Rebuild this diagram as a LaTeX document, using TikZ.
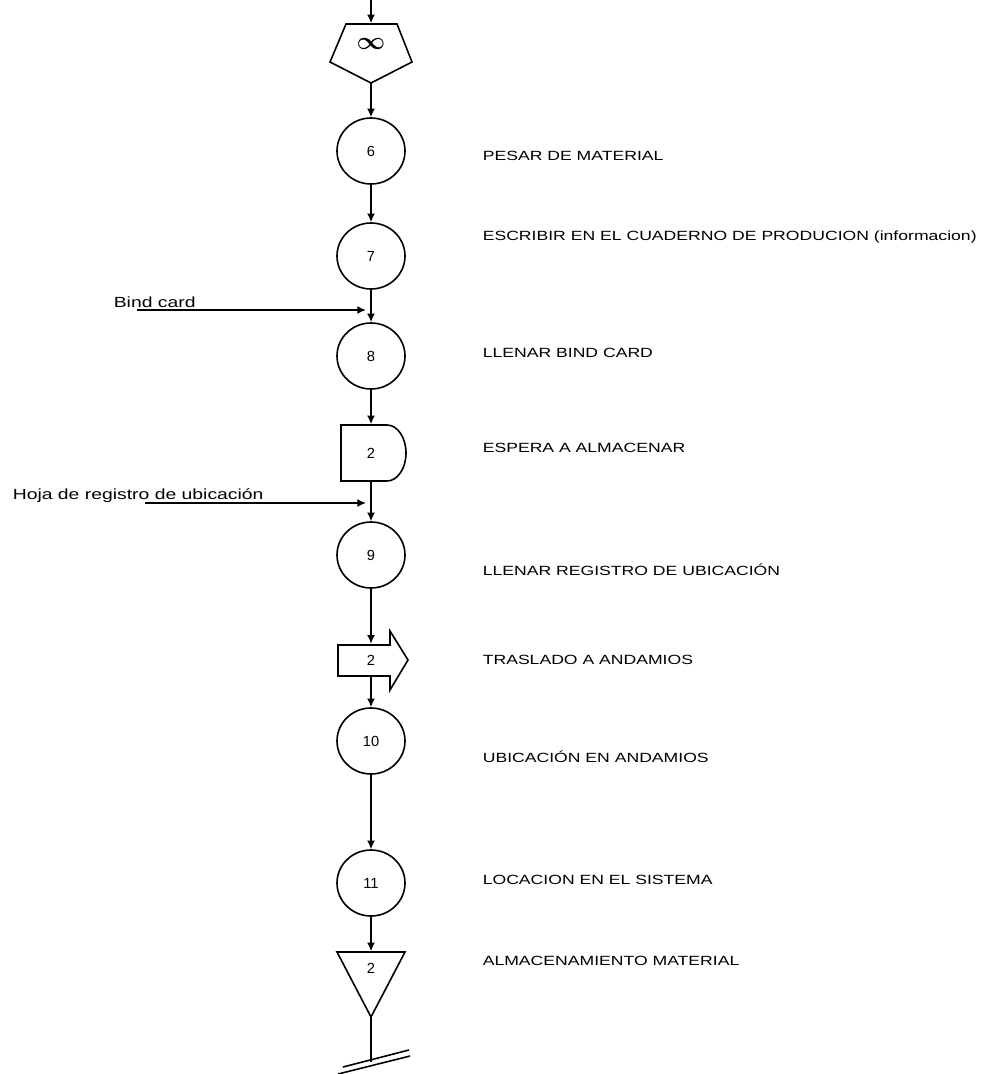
\documentclass[tikz,border=0pt]{standalone}
\usepackage{amsmath}
\usepackage{fontspec}
\setmainfont{Liberation Sans}
\newfontfamily\widefont[FakeStretch=1.32]{Liberation Sans}
\usetikzlibrary{shapes.geometric,arrows.meta}
\begin{document}
\begin{tikzpicture}[x=0.75pt,y=-0.75pt,
  line width=1.2pt,
  flow/.style={-{Latex[length=6.5pt,width=6pt]}},
  op/.style={draw,ellipse,minimum width=51pt,minimum height=49.5pt,inner sep=0pt,font=\fontsize{11}{13}\selectfont},
  lbl/.style={anchor=west,inner sep=0pt,font=\widefont\fontsize{10}{12}\selectfont},
  side/.style={anchor=base west,inner sep=0pt,font=\widefont\fontsize{11}{13}\selectfont},
  num/.style={inner sep=0pt,font=\fontsize{11}{13}\selectfont}]
\useasboundingbox (0,0) rectangle (989,1074);
% pentagon
\draw (346,24) -- (397,24) -- (412,62) -- (371,83) -- (330,62) -- cycle;
\node[inner sep=0pt,minimum width=61.5pt,minimum height=44.25pt] (p) at (371,53.5) {};
\node[inner sep=0pt,scale=1.3] (inf) at (371,44) {\Large$\boldsymbol{\infty}$};
\coordinate (top) at (371,0);
% operations
\node[op] (c6) at (371,151) {6};
\node[op] (c7) at (371,256) {7};
\node[op] (c8) at (371,356) {8};
% delay
\draw (341,425) -- (387,425) arc (90:-90:14.25pt and 21pt) -- (341,481) -- cycle;
\node[num,minimum height=42pt] (d2) at (371,453) {2};
\node[op] (c9) at (371,555) {9};
% transport
\draw (338,645) -- (390,645) -- (390,631) -- (408,660) -- (390,690) -- (390,676) -- (338,676) -- cycle;
\node[num,minimum height=23.25pt] (b2) at (371,660) {2};
\node[op] (c10) at (371,741) {10};
\node[op] (c11) at (371,883) {11};
% storage
\draw (337,952) -- (405,952) -- (371,1017) -- cycle;
\node[num,minimum height=24pt] (t2) at (371,968) {2};
\coordinate (tb) at (371,1017);
\coordinate (tg) at (371,1062);
\draw (343,1067) -- (409,1050);
\draw (338,1074) -- (410,1056);
% connectors
\draw[flow] (top) -- (p.north);
\draw[flow] (371,83) -- (c6.north);
\draw[flow] (c6.south) -- (c7.north);
\draw[flow] (c7.south) -- (c8.north);
\draw[flow] (c8.south) -- (d2.north);
\draw[flow] (d2.south) -- (c9.north);
\draw[flow] (c9.south) -- (b2.north);
\draw[flow] (b2.south) -- (c10.north);
\draw[flow] (c10.south) -- (c11.north);
\draw[flow] (c11.south) -- (t2.north);
\draw (tb) -- (tg);
% side inputs
\node[side] (bind) at (113,307) {Bind card};
\coordinate (bs) at (137,310);
\coordinate (be) at (366,310);
\draw[flow] (bs) -- (be);
\node[side] (hoja) at (12,499) {Hoja de registro de ubicación};
\coordinate (hs) at (145,503);
\coordinate (he) at (366,503);
\draw[flow] (hs) -- (he);
% labels
\node[lbl] (l6) at (482,156) {PESAR DE MATERIAL};
\node[lbl] (l7) at (482,237) {ESCRIBIR EN EL CUADERNO DE PRODUCION (informacion)};
\node[lbl] (l8) at (482,353) {LLENAR BIND CARD};
\node[lbl] (ld) at (482,448) {ESPERA A ALMACENAR};
\node[lbl] (l9) at (482,570) {LLENAR REGISTRO DE UBICACIÓN};
\node[lbl] (lt) at (482,660) {TRASLADO A ANDAMIOS};
\node[lbl] (l10) at (482,757) {UBICACIÓN EN ANDAMIOS};
\node[lbl] (l11) at (482,880) {LOCACION EN EL SISTEMA};
\node[lbl] (ls) at (482,961) {ALMACENAMIENTO MATERIAL};
\end{tikzpicture}
\end{document}
